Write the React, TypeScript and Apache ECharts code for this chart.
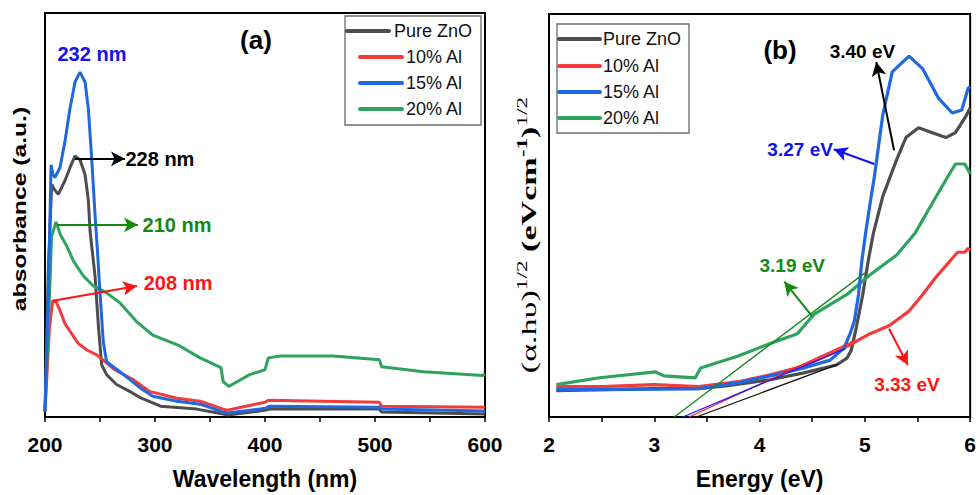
import React, { useEffect, useRef } from "react";
import * as echarts from "echarts";

// ---------- data ----------
const wavelengthRange = [200, 600];
const energyRange = [2, 6];
const seriesNames = ["Pure ZnO", "10% Al", "15% Al", "20% Al"];

// Panel (a): absorbance vs wavelength (nm)
const absPure = [
  [200, 0.05], [203, 1.5], [206.1, 2.36], [209.1, 2.3], [212.1, 2.26], [218.2, 2.4], [222.7, 2.53],
  [227.3, 2.65], [231.8, 2.61], [236.4, 2.46], [239.4, 2.2], [241, 1.88], [245.5, 1.43], [248.5, 0.93],
  [251.5, 0.53], [256, 0.43], [265, 0.33], [277, 0.26], [286, 0.2], [305, 0.11], [338, 0.08],
  [362, 0.03], [366, 0.02], [401, 0.07], [404, 0.08], [504, 0.08], [506, 0.05], [600, 0.03],
];
const abs10 = [
  [200, 0.06], [204, 0.9], [207, 1.18], [210, 1.17], [213, 1.1], [218, 0.95], [224, 0.85], [230, 0.75],
  [238, 0.68], [247, 0.63], [256, 0.55], [262, 0.49], [270, 0.44], [280, 0.38], [295, 0.26], [320, 0.19],
  [341, 0.16], [362, 0.08], [366, 0.07], [400, 0.15], [403, 0.17], [504, 0.15], [506, 0.11], [600, 0.1],
];
const abs15 = [
  [200, 0.06], [203, 1.2], [205.5, 2.56], [207, 2.47], [209, 2.43], [213.6, 2.53], [218.2, 2.8],
  [222.7, 3.13], [227.3, 3.4], [231.8, 3.5], [236.4, 3.4], [239.4, 3.13], [242.4, 2.63], [245.5, 2.05],
  [247.6, 1.7], [250, 1.26], [253, 0.76], [256, 0.56], [268, 0.46], [286, 0.3], [298, 0.21], [320, 0.16],
  [341, 0.13], [362, 0.05], [366, 0.04], [401, 0.09], [404, 0.11], [504, 0.1], [506, 0.08], [600, 0.06],
];
const abs20 = [
  [200, 0.06], [203, 0.9], [206, 1.83], [210, 1.98], [214, 1.85], [220, 1.73], [226, 1.58], [235, 1.43],
  [244, 1.33], [256, 1.26], [268, 1.16], [284, 0.96], [298, 0.83], [321, 0.73], [341, 0.6], [360, 0.5],
  [362, 0.36], [367, 0.31], [386, 0.43], [400, 0.48], [403, 0.6], [414, 0.62], [462, 0.62], [504, 0.58],
  [506, 0.51], [544, 0.46], [598, 0.42], [600, 0.44],
];

// Panel (b): (alpha h nu)^1/2 vs energy (eV)
const taucPure = [
  [2.07, 0.27], [2.5, 0.28], [3.0, 0.29], [3.42, 0.29], [3.7, 0.32], [4.1, 0.38], [4.42, 0.45], [4.73, 0.53],
  [4.83, 0.6], [4.87, 0.68], [4.92, 0.92], [4.98, 1.25], [5.03, 1.58], [5.08, 1.87], [5.17, 2.25],
  [5.3, 2.62], [5.39, 2.85], [5.51, 2.95], [5.64, 2.9], [5.77, 2.85], [5.86, 2.9], [5.95, 3.05], [6.0, 3.15],
];
const tauc10 = [
  [2.07, 0.31], [2.5, 0.31], [3.0, 0.33], [3.42, 0.31], [3.8, 0.36], [4.1, 0.43], [4.42, 0.52], [4.83, 0.72],
  [5.05, 0.85], [5.23, 0.93], [5.42, 1.08], [5.55, 1.25], [5.67, 1.42], [5.8, 1.58], [5.88, 1.68],
  [5.95, 1.68], [5.98, 1.72], [6.0, 1.7],
];
const tauc15 = [
  [2.07, 0.28], [2.5, 0.28], [3.0, 0.285], [3.42, 0.29], [3.8, 0.35], [4.1, 0.42], [4.42, 0.5], [4.67, 0.58],
  [4.8, 0.7], [4.86, 0.85], [4.9, 0.98], [4.94, 1.25], [4.97, 1.58], [5.01, 1.9], [5.06, 2.25], [5.09, 2.45],
  [5.17, 3.08], [5.26, 3.52], [5.42, 3.68], [5.55, 3.55], [5.7, 3.25], [5.83, 3.1], [5.92, 3.13],
  [5.98, 3.35], [6.0, 3.37],
];
const tauc20 = [
  [2.07, 0.33], [2.48, 0.4], [3.01, 0.46], [3.09, 0.42], [3.39, 0.4], [3.44, 0.5], [3.79, 0.62], [4.1, 0.75],
  [4.36, 0.85], [4.52, 1.05], [4.83, 1.25], [5.05, 1.45], [5.3, 1.65], [5.48, 1.88], [5.64, 2.18],
  [5.77, 2.42], [5.86, 2.58], [5.95, 2.58], [6.0, 2.48],
];
// linear extrapolations (band-gap fits)
const fitPure = [[3.4, 0], [4.75, 0.54]];
const fit10 = [[3.33, 0], [4.9, 0.78]];
const fit15 = [[3.27, 0], [4.82, 0.7]];
const fit20 = [[3.19, 0], [5.0, 1.47]];

const peakLabels = ["228 nm", "208 nm", "232 nm", "210 nm"];
const gapLabels = ["3.40 eV", "3.33 eV", "3.27 eV", "3.19 eV"];

// ---------- style ----------
const SANS = "'Liberation Sans', Arial, sans-serif";
const SERIF = "'Liberation Serif', 'Times New Roman', serif";
const lineColors = ["#4d4d4d", "#f23b3b", "#1f68e0", "#2ea35e"];
const textColors = ["#000000", "#ff1414", "#1212ee", "#128a12"];

function arrow(from: number[], to: number[], color: string) {
  return {
    silent: true,
    symbol: ["none", "arrow"],
    symbolSize: [11, 14],
    lineStyle: { color, width: 2, type: "solid" },
    label: { show: false },
    emphasis: { disabled: true },
    data: [[{ coord: from }, { coord: to }]],
  };
}
function note(at: number[], text: string, color: string, size: number) {
  return {
    silent: true,
    symbol: "rect",
    symbolSize: 1,
    itemStyle: { color: "rgba(0,0,0,0)" },
    label: {
      show: true,
      position: "inside",
      formatter: text,
      color,
      fontSize: size,
      fontWeight: "bold",
      fontFamily: SANS,
    },
    data: [{ coord: at }],
  };
}

export default function App() {
  const ref = useRef<HTMLDivElement>(null);
  useEffect(() => {
    if (!ref.current) return;
    const chart = echarts.init(ref.current, undefined, { renderer: "svg" });

    const xAxisBase = (gridIndex: number, min: number, max: number, interval: number, name: string) => ({
      gridIndex,
      type: "value",
      min,
      max,
      interval,
      name,
      nameLocation: "middle",
      nameGap: 50,
      nameTextStyle: { fontSize: 23, fontWeight: "bold", color: "#000", fontFamily: SANS },
      axisLine: { show: true, onZero: false, lineStyle: { color: "#000", width: 2 } },
      axisTick: { show: true, inside: false, length: 5, lineStyle: { color: "#000", width: 1.5 } },
      minorTick: { show: true, splitNumber: 2, length: 5, lineStyle: { color: "#000", width: 1.5 } },
      splitLine: { show: false },
      minorSplitLine: { show: false },
      axisLabel: {
        fontSize: 21,
        fontWeight: "bold",
        color: "#000",
        margin: 17,
        fontFamily: SANS,
        showMinLabel: true,
        showMaxLabel: true,
      },
    });
    const yAxisBase = (gridIndex: number, max: number) => ({
      gridIndex,
      type: "value",
      min: 0,
      max,
      axisLine: { show: false },
      axisTick: { show: false },
      axisLabel: { show: false },
      splitLine: { show: false },
    });

    const absData = [absPure, abs10, abs15, abs20];
    const taucData = [taucPure, tauc10, tauc15, tauc20];
    const fitData = [fitPure, fit10, fit15, fit20];

    // annotation anchors (data coordinates)
    const arrowsA = [
      { from: [227.3, 2.62], to: [272.7, 2.62], text: [304.5, 2.62] },
      { from: [207.3, 1.18], to: [283.6, 1.33], text: [321, 1.36] },
      { from: null, to: null, text: [242.7, 3.68] },
      { from: [210.9, 1.95], to: [284.5, 1.95], text: [320, 1.95] },
    ];
    const arrowsB = [
      { from: [5.277, 2.72], to: [5.108, 3.62], text: [4.977, 3.73] },
      { from: [5.23, 0.9], to: [5.408, 0.53], text: [5.399, 0.33] },
      { from: [5.089, 2.58], to: [4.704, 2.73], text: [4.385, 2.73] },
      { from: [4.498, 1.03], to: [4.235, 1.38], text: [4.31, 1.55] },
    ];

    const order = [0, 1, 3, 2];
    const series: any[] = [];
    order.forEach((i) => {
      const a = arrowsA[i];
      series.push({
        name: seriesNames[i],
        type: "line",
        xAxisIndex: 0,
        yAxisIndex: 0,
        data: absData[i],
        showSymbol: false,
        symbol: "none",
        lineStyle: { color: lineColors[i], width: 3 },
        itemStyle: { color: lineColors[i] },
        markLine: a.from ? arrow(a.from, a.to as number[], textColors[i]) : undefined,
        markPoint: note(a.text, peakLabels[i], textColors[i], 20),
      });
    });
    order.forEach((i) => {
      const b = arrowsB[i];
      series.push({
        name: seriesNames[i],
        type: "line",
        xAxisIndex: 1,
        yAxisIndex: 1,
        data: taucData[i],
        showSymbol: false,
        symbol: "none",
        lineStyle: { color: lineColors[i], width: 3.2 },
        itemStyle: { color: lineColors[i] },
        markLine: arrow(b.from, b.to, textColors[i]),
        markPoint: note(b.text, gapLabels[i], textColors[i], 19),
      });
    });
    const fitColors = ["#111111", "#ff2020", "#1a1aff", "#138a13"];
    [0, 1, 2, 3].forEach((i) => {
      series.push({
        name: seriesNames[i] + " fit",
        type: "line",
        xAxisIndex: 1,
        yAxisIndex: 1,
        data: fitData[i],
        showSymbol: false,
        symbol: "none",
        lineStyle: { color: fitColors[i], width: 1.3 },
        z: 3,
      });
    });

    const legendGraphic = (
      box: { x: number; y: number; w: number; h: number },
      rows: { y: number; x1: number; x2: number; tx: number }[]
    ) => {
      const children: any[] = [
        {
          type: "rect",
          shape: { x: box.x, y: box.y, width: box.w, height: box.h },
          style: { fill: "#fff", stroke: "#6a6a6a", lineWidth: 1.3 },
        },
      ];
      rows.forEach((r, i) => {
        children.push({
          type: "line",
          shape: { x1: r.x1, y1: r.y, x2: r.x2, y2: r.y },
          style: { stroke: lineColors[i], lineWidth: 4, lineCap: "round" },
        });
        children.push({
          type: "text",
          x: r.tx,
          y: r.y,
          style: {
            text: seriesNames[i],
            fontSize: 18,
            fontFamily: SANS,
            fill: "#111",
            align: "left",
            verticalAlign: "middle",
          },
        });
      });
      return { type: "group", z: 10, children };
    };

    const option: any = {
      animation: false,
      backgroundColor: "#ffffff",
      grid: [
        { left: 45, top: 13, width: 440, height: 410, show: true, borderColor: "#000", borderWidth: 2, backgroundColor: "transparent" },
        { left: 549, top: 14, width: 426, height: 411, show: true, borderColor: "#000", borderWidth: 2, backgroundColor: "transparent" },
      ],
      xAxis: [
        xAxisBase(0, wavelengthRange[0], wavelengthRange[1], 100, "Wavelength (nm)"),
        xAxisBase(1, energyRange[0], energyRange[1], 1, "Energy (eV)"),
      ],
      yAxis: [yAxisBase(0, 4.1), yAxisBase(1, 4.11)],
      series,
      graphic: [
        {
          type: "text",
          x: 20,
          y: 209,
          rotation: Math.PI / 2,
          scaleX: 1.3,
          style: {
            text: "absorbance (a.u.)",
            fontSize: 19,
            fontWeight: "bold",
            fontFamily: SANS,
            fill: "#000",
            align: "center",
            verticalAlign: "middle",
          },
        },
        {
          type: "text",
          x: 527,
          y: 235,
          rotation: Math.PI / 2,
          scaleX: 1.55,
          style: {
            text: "{r|(α.hυ)}{s|1/2}{b| (eVcm}{sb|-1}{b|)}{s|1/2}",
            align: "center",
            verticalAlign: "middle",
            fill: "#000",
            rich: {
              r: { fontSize: 22, fontFamily: SERIF, lineHeight: 24, verticalAlign: "bottom", fill: "#000" },
              b: { fontSize: 22, fontFamily: SERIF, fontWeight: "bold", lineHeight: 24, verticalAlign: "bottom", fill: "#000" },
              s: { fontSize: 15, fontFamily: SERIF, lineHeight: 15, verticalAlign: "top", fill: "#000" },
              sb: { fontSize: 15, fontFamily: SERIF, fontWeight: "bold", lineHeight: 15, verticalAlign: "top", fill: "#000" },
            },
          },
        },
        {
          type: "text",
          x: 256,
          y: 40,
          style: { text: "(a)", fontSize: 26, fontWeight: "bold", fontFamily: SANS, fill: "#000", align: "center", verticalAlign: "middle" },
        },
        {
          type: "text",
          x: 780,
          y: 50,
          style: { text: "(b)", fontSize: 26, fontWeight: "bold", fontFamily: SANS, fill: "#000", align: "center", verticalAlign: "middle" },
        },
        legendGraphic({ x: 345, y: 16, w: 136, h: 109 }, [
          { y: 31, x1: 347, x2: 389, tx: 394 },
          { y: 57, x1: 360, x2: 402, tx: 406 },
          { y: 83, x1: 360, x2: 402, tx: 406 },
          { y: 109, x1: 360, x2: 402, tx: 406 },
        ]),
        legendGraphic({ x: 557, y: 24, w: 132, h: 109 }, [
          { y: 39, x1: 559, x2: 600, tx: 603 },
          { y: 66, x1: 559, x2: 600, tx: 603 },
          { y: 92, x1: 559, x2: 600, tx: 603 },
          { y: 118, x1: 559, x2: 600, tx: 603 },
        ]),
      ],
    };
    chart.setOption(option);
    return () => chart.dispose();
  }, []);

  return (
    <div
      ref={ref}
      style={{ position: "fixed", left: 0, top: 0, width: 979, height: 495, background: "#fff" }}
    />
  );
}
